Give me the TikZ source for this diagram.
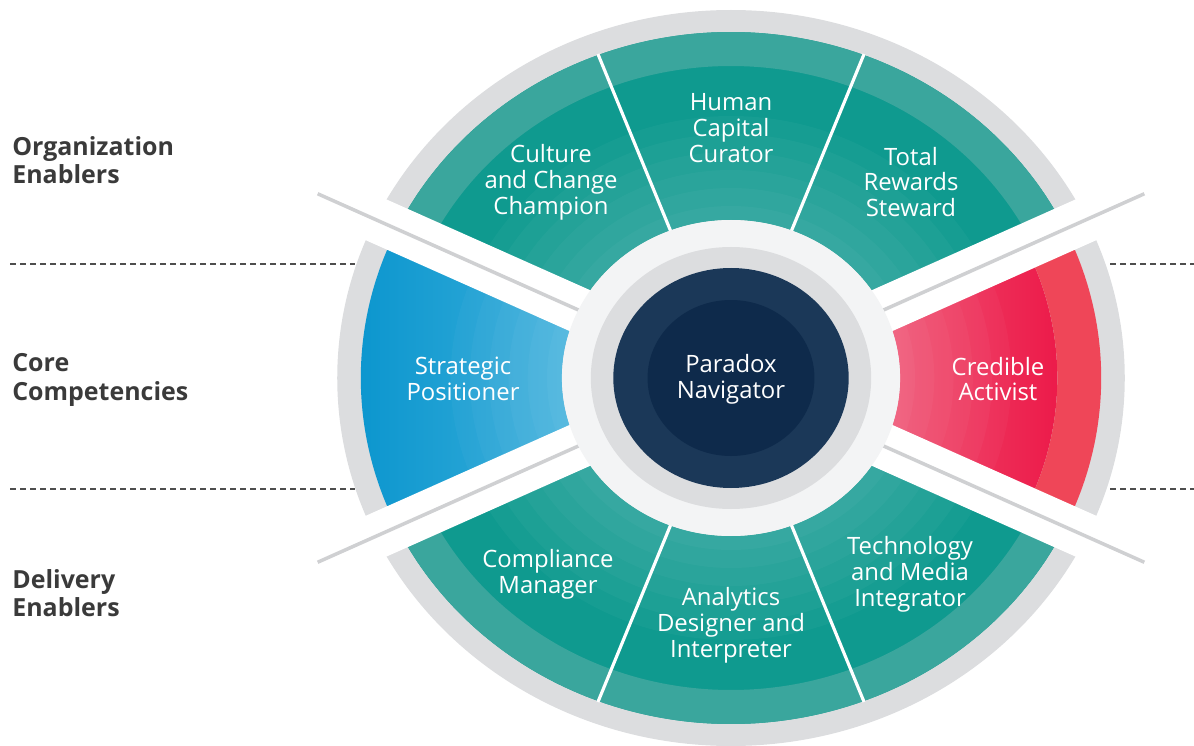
\documentclass[tikz,border=0pt]{standalone}
\usepackage{fontspec}
\setmainfont{Open Sans}
\usepackage{tikz}
\usetikzlibrary{calc}

\definecolor{tealdark}{HTML}{0F9A8F}
\definecolor{teallight}{HTML}{3AA69D}
\definecolor{ringgray}{HTML}{DCDDDF}
\definecolor{linegray}{HTML}{CFD0D2}
\definecolor{whitering}{HTML}{F3F4F5}
\definecolor{navyout}{HTML}{1B3858}
\definecolor{navyin}{HTML}{0E2A4B}
\definecolor{blueout}{HTML}{0A95CE}
\definecolor{bluein}{HTML}{3AAFDA}
\definecolor{redout}{HTML}{EC1848}
\definecolor{redin}{HTML}{F04A6C}
\definecolor{redband}{HTML}{EF4658}
\definecolor{labelgray}{HTML}{3A3A3A}

\begin{document}
\begin{tikzpicture}[x=0.02cm, y=0.02cm,
    seg/.style={text=white, align=center, inner sep=0pt,
      font=\fontsize{13.6}{14.7}\selectfont},
    side/.style={anchor=west, align=left, inner sep=0pt, text=labelgray,
      font=\fontsize{14.2}{16}\selectfont\bfseries},
    sep/.style={dash pattern=on 3.4pt off 2.3pt, line width=1.1pt, labelgray!90}]
  \useasboundingbox (0,0) rectangle (1194,745);

  % the wheel
  \begin{scope}[shift={(731,367)}, xscale=1.07]
    % outer ring
    \fill[ringgray] (0,0) circle[radius=368];

    % teal segments
    \foreach \a/\b in {25.5/69, 69/111, 111/154.5, 205.5/249, 249/291, 291/334.5} {
      \fill[tealdark] (\a:158) arc[start angle=\a, end angle=\b, radius=158]
        -- (\b:346) arc[start angle=\b, end angle=\a, radius=346] -- cycle;
      \fill[teallight] (\a:312) arc[start angle=\a, end angle=\b, radius=312]
        -- (\b:346) arc[start angle=\b, end angle=\a, radius=346] -- cycle;
    }

    % blue segment
    \shade[left color=blueout, right color=bluein]
      (154.5:158) arc[start angle=154.5, end angle=205.5, radius=158]
      -- (205.5:346) arc[start angle=205.5, end angle=154.5, radius=346] -- cycle;

    % red segment
    \shade[left color=redin, right color=redout]
      (-25.5:158) arc[start angle=-25.5, end angle=25.5, radius=158]
      -- (25.5:305) arc[start angle=25.5, end angle=-25.5, radius=305] -- cycle;
    \fill[redband] (-25.5:305) arc[start angle=-25.5, end angle=25.5, radius=305]
      -- (25.5:346) arc[start angle=25.5, end angle=-25.5, radius=346] -- cycle;

    % faint rings near the middle
    \foreach \r in {262,244,...,170}
      \fill[white, opacity=0.03] (0,0) circle[radius=\r];

    % thin dividers
    \foreach \a in {69, 111, 249, 291}
      \draw[white, line width=1.8pt] (\a:150) -- (\a:347);

    % wide gaps with a grey line
    \foreach \a in {25.5, 154.5, 205.5, 334.5} {
      \draw[white, line width=26pt] (0,0) -- (\a:400);
      \draw[linegray, line width=2pt] (\a:150) -- (\a:428);
    }

    % centre
    \fill[whitering] (0,0) circle[radius=158];
    \fill[ringgray] (0,0) circle[radius=131];
    \fill[navyout] (0,0) circle[radius=110];
    \fill[navyin] (0,0) circle[radius=78];
  \end{scope}

  % dashed separators
  \draw[sep] (10,481) -- (355,481);
  \draw[sep] (10,256) -- (355,256);
  \draw[sep] (1110,481) -- (1194,481);
  \draw[sep] (1110,256) -- (1194,256);

  % segment labels
  \node[seg] (culture) at (551,563) {Culture\\and Change\\Champion};
  \node[seg] (human) at (731,617) {Human\\Capital\\Curator};
  \node[seg] (rewards) at (911,563) {Total\\Rewards\\Steward};
  \node[seg] (strategic) at (463,366) {Strategic\\Positioner};
  \node[seg] (paradox) at (731,366) {Paradox\\Navigator};
  \node[seg] (credible) at (998,366) {Credible\\Activist};
  \node[seg] (compliance) at (548,171) {Compliance\\Manager};
  \node[seg] (analytics) at (731,120) {Analytics\\Designer and\\Interpreter};
  \node[seg] (technology) at (910,171) {Technology\\and Media\\Integrator};

  % row labels
  \node[side] (org) at (12,585) {Organization\\Enablers};
  \node[side] (core) at (12,365) {Core\\Competencies};
  \node[side] (delivery) at (12,152) {Delivery\\Enablers};
\end{tikzpicture}
\end{document}
